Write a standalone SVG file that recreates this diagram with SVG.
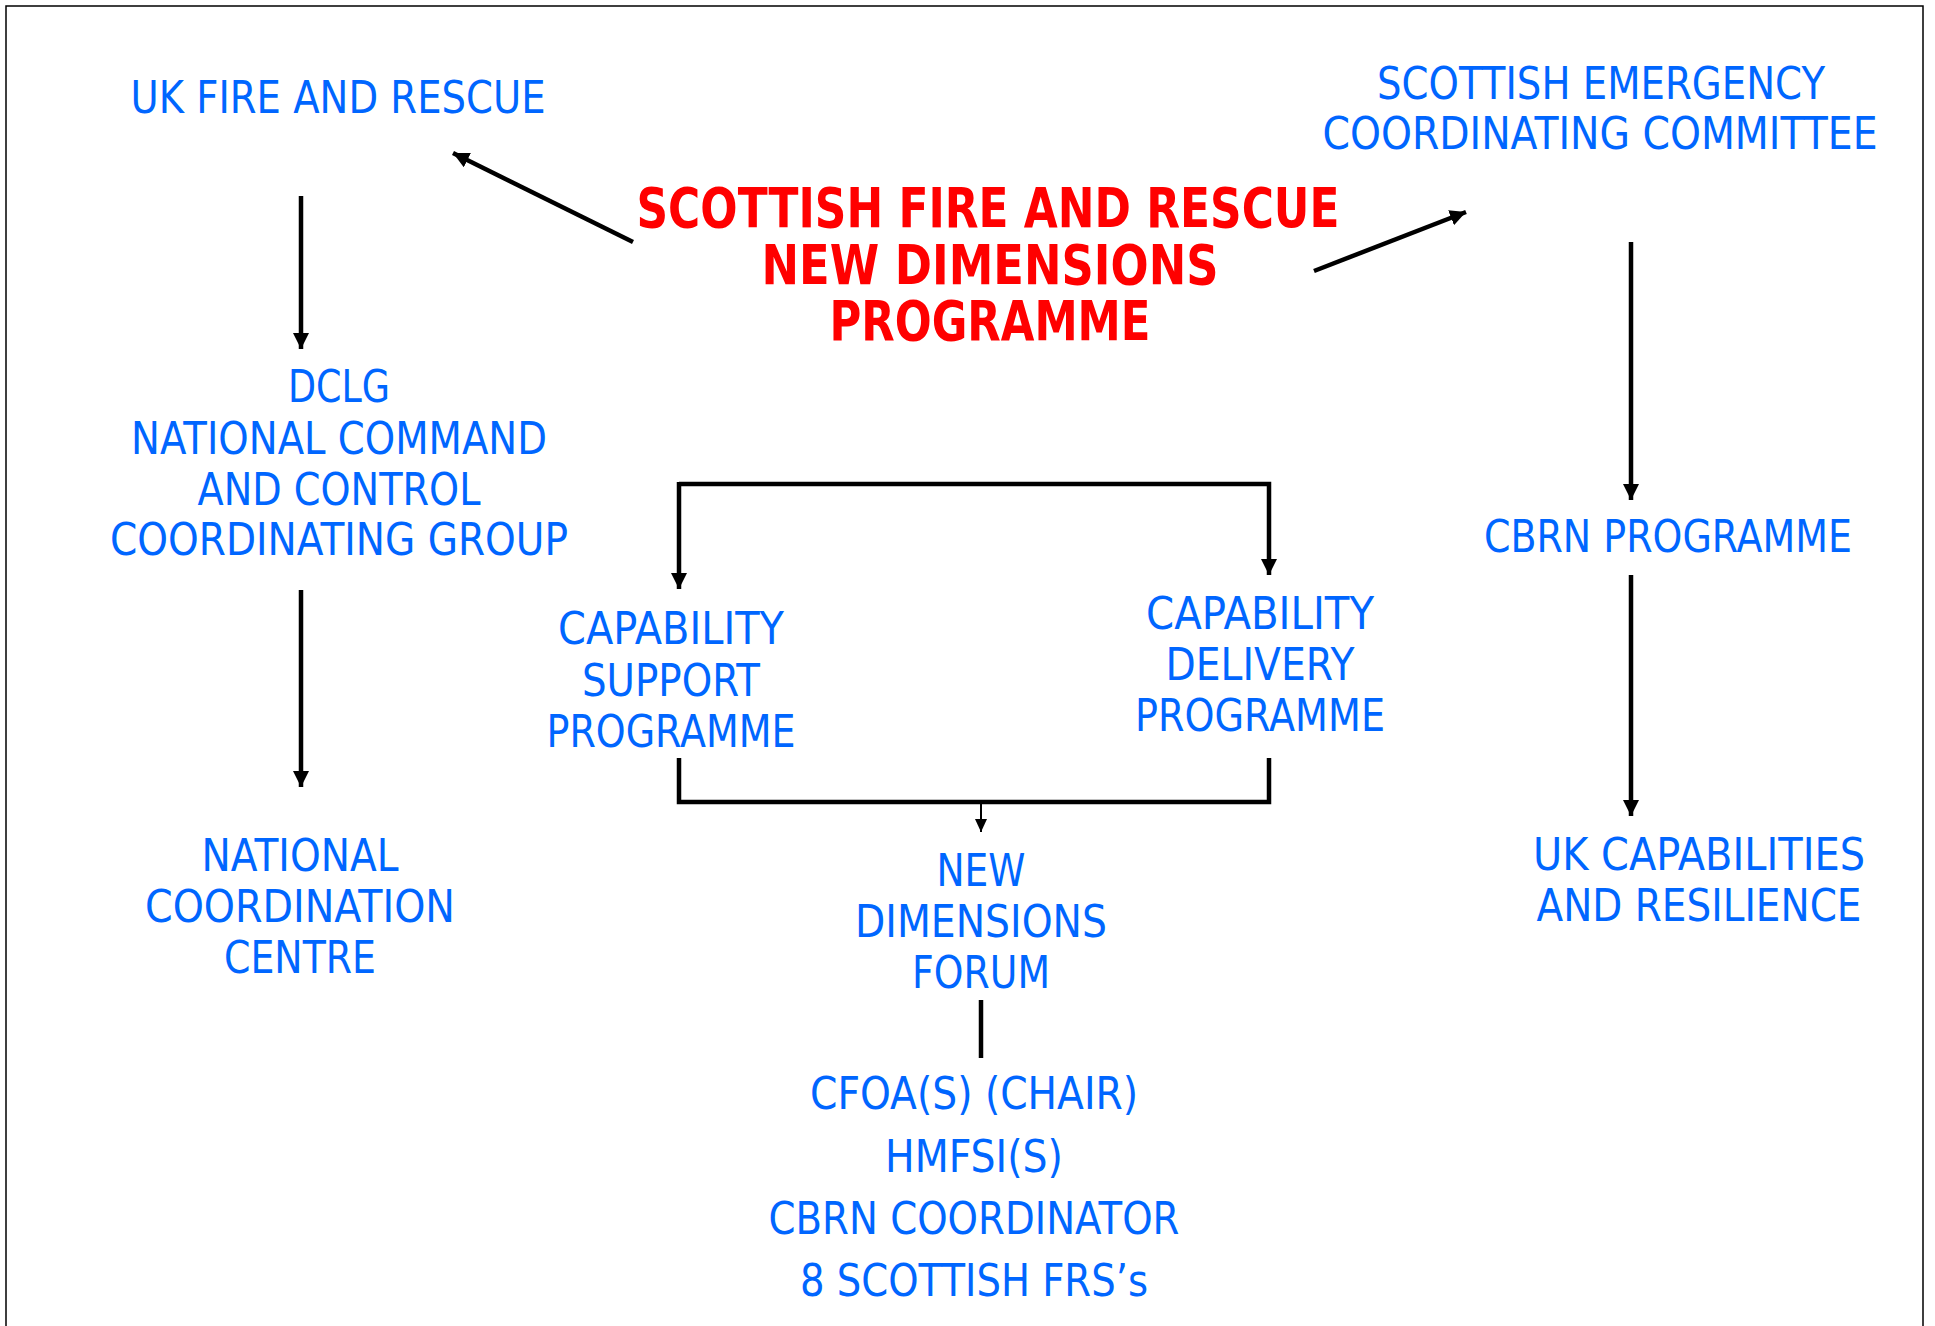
<svg xmlns="http://www.w3.org/2000/svg" width="1935" height="1326" viewBox="0 0 1935 1326">
<defs>
<marker id="ah" markerWidth="17" markerHeight="16" refX="16" refY="8" orient="auto" markerUnits="userSpaceOnUse"><path d="M0,0 L16,8 L0,16 z" fill="#000"/></marker>
<marker id="ahs" markerWidth="14" markerHeight="12" refX="13" refY="6" orient="auto" markerUnits="userSpaceOnUse"><path d="M0,0 L13,6 L0,12 z" fill="#000"/></marker>
<style>
.t{font-family:"DejaVu Sans","Liberation Sans",sans-serif;font-size:44px;fill:#0066ff;text-anchor:middle}
.r{font-family:"DejaVu Sans","Liberation Sans",sans-serif;font-size:55px;font-weight:bold;fill:#ff0000;text-anchor:middle}
.c{stroke:#000;stroke-width:4.5;fill:none}
.cs{stroke:#000;stroke-width:2;fill:none}
</style>
</defs>
<rect x="0" y="0" width="1935" height="1326" fill="#fff"/>
<path d="M6,1330 L6,6 L1923,6 L1923,1330" fill="none" stroke="#000" stroke-width="1.5"/>
<g id="connectors">
<line class="c" x1="633" y1="242" x2="453" y2="153" marker-end="url(#ah)"/>
<line class="c" x1="1314" y1="271" x2="1466" y2="212" marker-end="url(#ah)"/>
<line class="c" x1="301" y1="196" x2="301" y2="349" marker-end="url(#ah)"/>
<line class="c" x1="301" y1="590" x2="301" y2="787" marker-end="url(#ah)"/>
<line class="c" x1="1631" y1="242" x2="1631" y2="500" marker-end="url(#ah)"/>
<line class="c" x1="1631" y1="575" x2="1631" y2="816" marker-end="url(#ah)"/>
<polyline class="c" points="679,484 1269,484 1269,575" marker-end="url(#ah)"/>
<line class="c" x1="679" y1="482" x2="679" y2="589" marker-end="url(#ah)"/>
<polyline class="c" points="679,758 679,802 1269,802 1269,758"/>
<line class="cs" x1="981" y1="802" x2="981" y2="832" marker-end="url(#ahs)"/>
<line class="c" x1="981" y1="1000" x2="981" y2="1058"/>
</g>
<g id="title">
<text class="r" x="988" y="227" textLength="703" lengthAdjust="spacingAndGlyphs">SCOTTISH FIRE AND RESCUE</text>
<text class="r" x="990" y="284" textLength="457" lengthAdjust="spacingAndGlyphs">NEW DIMENSIONS</text>
<text class="r" x="990" y="340" textLength="321" lengthAdjust="spacingAndGlyphs">PROGRAMME</text>
</g>
<g id="uk-fire">
<text class="t" x="338" y="113" textLength="415" lengthAdjust="spacingAndGlyphs">UK FIRE AND RESCUE</text>
</g>
<g id="secc">
<text class="t" x="1601" y="99" textLength="448" lengthAdjust="spacingAndGlyphs">SCOTTISH EMERGENCY</text>
<text class="t" x="1600" y="149" textLength="555" lengthAdjust="spacingAndGlyphs">COORDINATING COMMITTEE</text>
</g>
<g id="dclg">
<text class="t" x="339" y="402" textLength="102" lengthAdjust="spacingAndGlyphs">DCLG</text>
<text class="t" x="339" y="454" textLength="416" lengthAdjust="spacingAndGlyphs">NATIONAL COMMAND</text>
<text class="t" x="339" y="505" textLength="283" lengthAdjust="spacingAndGlyphs">AND CONTROL</text>
<text class="t" x="339" y="555" textLength="458" lengthAdjust="spacingAndGlyphs">COORDINATING GROUP</text>
</g>
<g id="ncc">
<text class="t" x="300" y="871" textLength="197" lengthAdjust="spacingAndGlyphs">NATIONAL</text>
<text class="t" x="300" y="922" textLength="310" lengthAdjust="spacingAndGlyphs">COORDINATION</text>
<text class="t" x="300" y="973" textLength="152" lengthAdjust="spacingAndGlyphs">CENTRE</text>
</g>
<g id="csp">
<text class="t" x="671" y="644" textLength="226" lengthAdjust="spacingAndGlyphs">CAPABILITY</text>
<text class="t" x="671" y="696" textLength="178" lengthAdjust="spacingAndGlyphs">SUPPORT</text>
<text class="t" x="671" y="747" textLength="249" lengthAdjust="spacingAndGlyphs">PROGRAMME</text>
</g>
<g id="cdp">
<text class="t" x="1260" y="629" textLength="228" lengthAdjust="spacingAndGlyphs">CAPABILITY</text>
<text class="t" x="1260" y="680" textLength="189" lengthAdjust="spacingAndGlyphs">DELIVERY</text>
<text class="t" x="1260" y="731" textLength="250" lengthAdjust="spacingAndGlyphs">PROGRAMME</text>
</g>
<g id="ndf">
<text class="t" x="981" y="886" textLength="89" lengthAdjust="spacingAndGlyphs">NEW</text>
<text class="t" x="981" y="937" textLength="252" lengthAdjust="spacingAndGlyphs">DIMENSIONS</text>
<text class="t" x="981" y="988" textLength="138" lengthAdjust="spacingAndGlyphs">FORUM</text>
</g>
<g id="members">
<text class="t" x="974" y="1109" textLength="328" lengthAdjust="spacingAndGlyphs">CFOA(S) (CHAIR)</text>
<text class="t" x="974" y="1172" textLength="178" lengthAdjust="spacingAndGlyphs">HMFSI(S)</text>
<text class="t" x="974" y="1234" textLength="411" lengthAdjust="spacingAndGlyphs">CBRN COORDINATOR</text>
<text class="t" x="974" y="1296" textLength="348" lengthAdjust="spacingAndGlyphs">8 SCOTTISH FRS’s</text>
</g>
<g id="cbrn">
<text class="t" x="1668" y="552" textLength="368" lengthAdjust="spacingAndGlyphs">CBRN PROGRAMME</text>
</g>
<g id="ukcr">
<text class="t" x="1699" y="870" textLength="332" lengthAdjust="spacingAndGlyphs">UK CAPABILITIES</text>
<text class="t" x="1699" y="921" textLength="325" lengthAdjust="spacingAndGlyphs">AND RESILIENCE</text>
</g>
</svg>
